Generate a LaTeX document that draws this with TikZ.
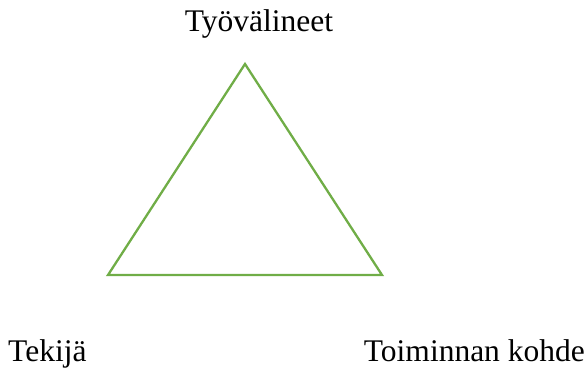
\documentclass[tikz,border=0pt]{standalone}
\usepackage{fontspec}
\setmainfont{Liberation Serif}
\usetikzlibrary{positioning}
\definecolor{tline}{RGB}{112,173,71}

\begin{document}
\begin{tikzpicture}[
  x=1pt, y=-1pt,
  font=\fontsize{31.5}{38}\selectfont,
  lbl/.style={inner sep=0pt, anchor=base},
  edge/.style={draw=tline, line width=2.3pt, line join=miter},
]
\useasboundingbox (0,0) rectangle (587,371);
\coordinate (top) at (245,64);
\coordinate (left) at (108,275);
\coordinate (right) at (382,275);
\draw[edge] (top) -- (left) -- (right) -- cycle;

\node[lbl] (tool) at (259,32) {Työvälineet};
\node[lbl, anchor=base west] (subj) at (8,362) {Tekijä};
\node[lbl, anchor=base east] (obj) at (585,362) {Toiminnan kohde};
\end{tikzpicture}
\end{document}
